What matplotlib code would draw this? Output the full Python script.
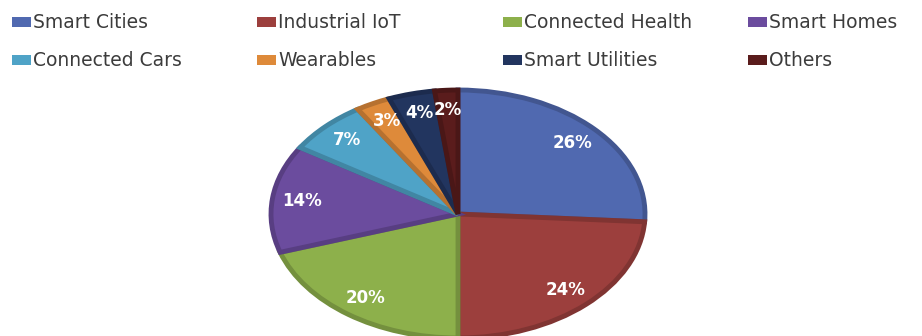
import numpy as np
import matplotlib.pyplot as plt
from matplotlib.patches import Rectangle
from matplotlib.colors import to_rgb

labels = ["Smart Cities", "Industrial IoT", "Connected Health", "Smart Homes",
          "Connected Cars", "Wearables", "Smart Utilities", "Others"]
shares = [26, 24, 20, 14, 7, 3, 4, 2]
colors = ["#5069B0", "#9C3F3D", "#8DB04B", "#6B4C9E",
          "#4FA3C7", "#DE8A3A", "#22355F", "#5A1C1C"]

W, H = 922, 336
fig = plt.figure(figsize=(W / 100, H / 100), dpi=100)

# pie is an ellipse: center (458, 214) px from top, rx 187, ry 124
cx, cy, rx, ry = 458, 214, 187, 124
ax = fig.add_axes([(cx - rx) / W, (H - cy - ry) / H, 2 * rx / W, 2 * ry / H])

edge = [tuple(np.array(to_rgb(c)) * 0.82) for c in colors]
wedges, texts, autotexts = ax.pie(
    shares, colors=colors, startangle=90, counterclock=False,
    autopct="%d%%", pctdistance=0.84,
    wedgeprops=dict(linewidth=3.5, edgecolor="none"),
    textprops=dict(color="white", fontsize=12, fontweight="bold"))
for w, e in zip(wedges, edge):
    w.set_edgecolor(e)
    w.set_joinstyle("miter")
ax.set_aspect("auto")
ax.set_xlim(-1, 1)
ax.set_ylim(-1, 1)

# legend: 4 columns, 2 rows, fixed spacing
col_x = [12, 257, 503, 748]
row_y = [22, 60]
for i, (lab, c) in enumerate(zip(labels, colors)):
    x = col_x[i % 4]
    y = row_y[i // 4]
    fig.add_artist(Rectangle((x / W, (H - y - 5) / H), 19 / W, 10 / H,
                             transform=fig.transFigure, color=c, lw=0))
    fig.text((x + 21) / W, (H - y) / H, lab, fontsize=13.5, color="#3c3c3c",
             va="center", ha="left")

fig.savefig("out.png", dpi=100)
